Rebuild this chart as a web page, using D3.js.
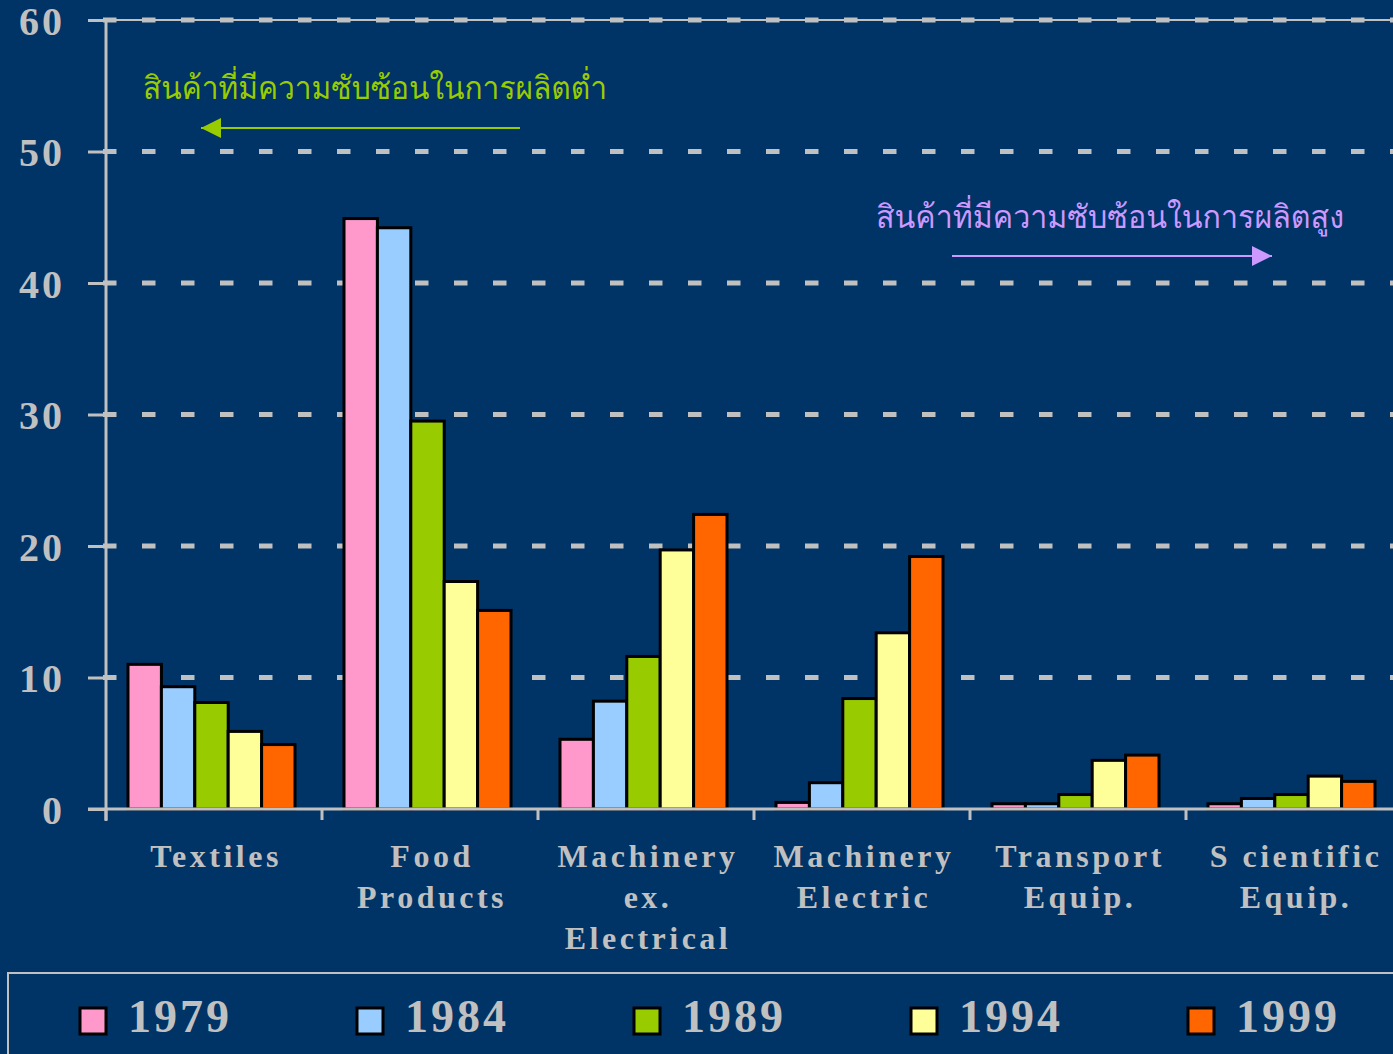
<!DOCTYPE html>
<html>
<head>
<meta charset="utf-8">
<script src="https://cdn.jsdelivr.net/npm/d3@7"></script>
<style>
  html, body { margin: 0; padding: 0; background: #003366; overflow: hidden; }
  svg { display: block; }
</style>
</head>
<body>
<div id="chart"></div>
<script>
/* Data */
const categories = ["Textiles", "Food Products", "Machinery ex. Electrical", "Machinery Electric", "Transport Equip.", "Scientific Equip."];
const categoryLines = [["Textiles"], ["Food", "Products"], ["Machinery", "ex.", "Electrical"], ["Machinery", "Electric"], ["Transport", "Equip."], ["S cientific", "Equip."]];
const years = ["1979", "1984", "1989", "1994", "1999"];
const values1979 = [11.0, 44.9, 5.3, 0.5, 0.4, 0.4];
const values1984 = [9.3, 44.2, 8.2, 2.0, 0.4, 0.8];
const values1989 = [8.1, 29.5, 11.6, 8.4, 1.1, 1.1];
const values1994 = [5.9, 17.3, 19.7, 13.4, 3.7, 2.5];
const values1999 = [4.9, 15.1, 22.4, 19.2, 4.1, 2.1];
const yTicks = [0, 10, 20, 30, 40, 50, 60];
const colors = ["#ff99cc", "#99ccff", "#99cc00", "#ffff99", "#ff6600"];
const lowLabel = "สินค้าที่มีความซับซ้อนในการผลิตต่ำ";
const highLabel = "สินค้าที่มีความซับซ้อนในการผลิตสูง";

const series = [values1979, values1984, values1989, values1994, values1999];

const W = 1393, H = 1054;
const gray = "#c0c0c0";
const serif = "'Liberation Serif', 'Times New Roman', serif";
const thai = "'Norasi', 'Garuda', 'Loma', 'Noto Serif Thai', 'Noto Sans Thai', 'Tlwg Typo', serif";

const svg = d3.select("#chart").append("svg")
    .attr("width", W)
    .attr("height", H);

svg.append("rect").attr("width", W).attr("height", H).attr("fill", "#003366");

/* Scales */
const x0 = d3.scaleBand().domain(categories).range([106, 1402]);
const x1 = d3.scaleBand().domain(years).range([22, 189]);
const y = d3.scaleLinear().domain([0, 60]).range([809, 20]);

/* Gridlines (dashed) */
svg.append("line")
    .attr("x1", 106).attr("x2", W)
    .attr("y1", y(60)).attr("y2", y(60))
    .attr("stroke", gray).attr("stroke-width", 2);
svg.selectAll(".grid")
    .data(yTicks.filter(d => d > 0))
    .join("line")
      .attr("class", "grid")
      .attr("x1", 103).attr("x2", W)
      .attr("y1", d => y(d)).attr("y2", d => y(d))
      .attr("stroke", gray)
      .attr("stroke-width", 5)
      .attr("stroke-dasharray", "13.5 25.5");

/* Bars */
const groups = svg.selectAll(".group")
    .data(categories)
    .join("g")
      .attr("class", "group")
      .attr("transform", d => `translate(${x0(d)},0)`);

groups.selectAll("rect")
    .data((c, i) => years.map((yr, j) => ({ year: yr, value: series[j][i], color: colors[j] })))
    .join("rect")
      .attr("x", d => x1(d.year))
      .attr("width", x1.bandwidth())
      .attr("y", d => y(d.value))
      .attr("height", d => y(0) - y(d.value))
      .attr("fill", d => d.color)
      .attr("stroke", "#000")
      .attr("stroke-width", 3);

/* Y axis */
const yAxis = svg.append("g")
    .attr("transform", "translate(106,0)")
    .call(d3.axisLeft(y).tickValues(yTicks).tickSize(18).tickPadding(23));
yAxis.select(".domain").attr("stroke", gray).attr("stroke-width", 3)
    .attr("d", `M0,${y(60)}V821`);
yAxis.selectAll(".tick line").attr("stroke", gray).attr("stroke-width", 3);
yAxis.selectAll(".tick text")
    .attr("fill", gray)
    .attr("dy", "0.36em")
    .style("font-family", serif)
    .style("font-weight", "bold")
    .style("font-size", "40px")
    .style("letter-spacing", "3px");

/* X axis */
const xAxis = svg.append("g")
    .attr("transform", `translate(0,${y(0)})`);
xAxis.append("line")
    .attr("x1", 88).attr("x2", W)
    .attr("y1", 0).attr("y2", 0)
    .attr("stroke", gray).attr("stroke-width", 3);
xAxis.selectAll(".xtick")
    .data(categories)
    .join("line")
      .attr("class", "xtick")
      .attr("x1", d => x0(d)).attr("x2", d => x0(d))
      .attr("y1", 0).attr("y2", 11)
      .attr("stroke", gray).attr("stroke-width", 3);

const labels = svg.selectAll(".xlabel")
    .data(categories)
    .join("text")
      .attr("class", "xlabel")
      .attr("text-anchor", "middle")
      .attr("fill", gray)
      .style("font-family", serif)
      .style("font-weight", "bold")
      .style("font-size", "32px")
      .style("letter-spacing", "3.5px");
labels.selectAll("tspan")
    .data((d, i) => categoryLines[i].map(t => ({ t, c: d })))
    .join("tspan")
      .attr("x", d => x0(d.c) + x0.bandwidth() / 2 + 2)
      .attr("y", (d, k) => 867 + k * 41)
      .text(d => d.t);

/* Annotations */
const defs = svg.append("defs");
[["greenHead", "#99cc00"], ["purpleHead", "#cc99ff"]].forEach(([id, c]) => {
  defs.append("marker")
      .attr("id", id)
      .attr("viewBox", "0 0 20 20")
      .attr("refX", 20).attr("refY", 10)
      .attr("markerWidth", 20).attr("markerHeight", 20)
      .attr("markerUnits", "userSpaceOnUse")
      .attr("orient", "auto")
    .append("path")
      .attr("d", "M0,0L20,10L0,20Z")
      .attr("fill", c);
});

svg.append("text")
    .attr("x", 143).attr("y", 99)
    .attr("fill", "#99cc00")
    .attr("textLength", 464)
    .attr("lengthAdjust", "spacingAndGlyphs")
    .style("font-family", thai)
    .style("font-size", "32px")
    .text(lowLabel);
svg.append("line")
    .attr("x1", 520).attr("y1", 128)
    .attr("x2", 201).attr("y2", 128)
    .attr("stroke", "#99cc00").attr("stroke-width", 2)
    .attr("marker-end", "url(#greenHead)");

svg.append("text")
    .attr("x", 876).attr("y", 228)
    .attr("fill", "#cc99ff")
    .attr("textLength", 468)
    .attr("lengthAdjust", "spacingAndGlyphs")
    .style("font-family", thai)
    .style("font-size", "32px")
    .text(highLabel);
svg.append("line")
    .attr("x1", 952).attr("y1", 256)
    .attr("x2", 1272).attr("y2", 256)
    .attr("stroke", "#cc99ff").attr("stroke-width", 2)
    .attr("marker-end", "url(#purpleHead)");

/* Legend */
svg.append("rect")
    .attr("x", 8).attr("y", 973)
    .attr("width", W).attr("height", 200)
    .attr("fill", "none")
    .attr("stroke", gray).attr("stroke-width", 2);

const legend = svg.selectAll(".legend")
    .data(years)
    .join("g")
      .attr("class", "legend")
      .attr("transform", (d, i) => `translate(${80 + i * 277},0)`);
legend.append("rect")
    .attr("x", 0).attr("y", 1008)
    .attr("width", 26).attr("height", 26)
    .attr("fill", (d, i) => colors[i])
    .attr("stroke", "#000").attr("stroke-width", 3);
legend.append("text")
    .attr("x", 48).attr("y", 1032)
    .attr("fill", gray)
    .style("font-family", serif)
    .style("font-weight", "bold")
    .style("font-size", "46px")
    .style("letter-spacing", "3px")
    .text(d => d);
</script>
</body>
</html>
